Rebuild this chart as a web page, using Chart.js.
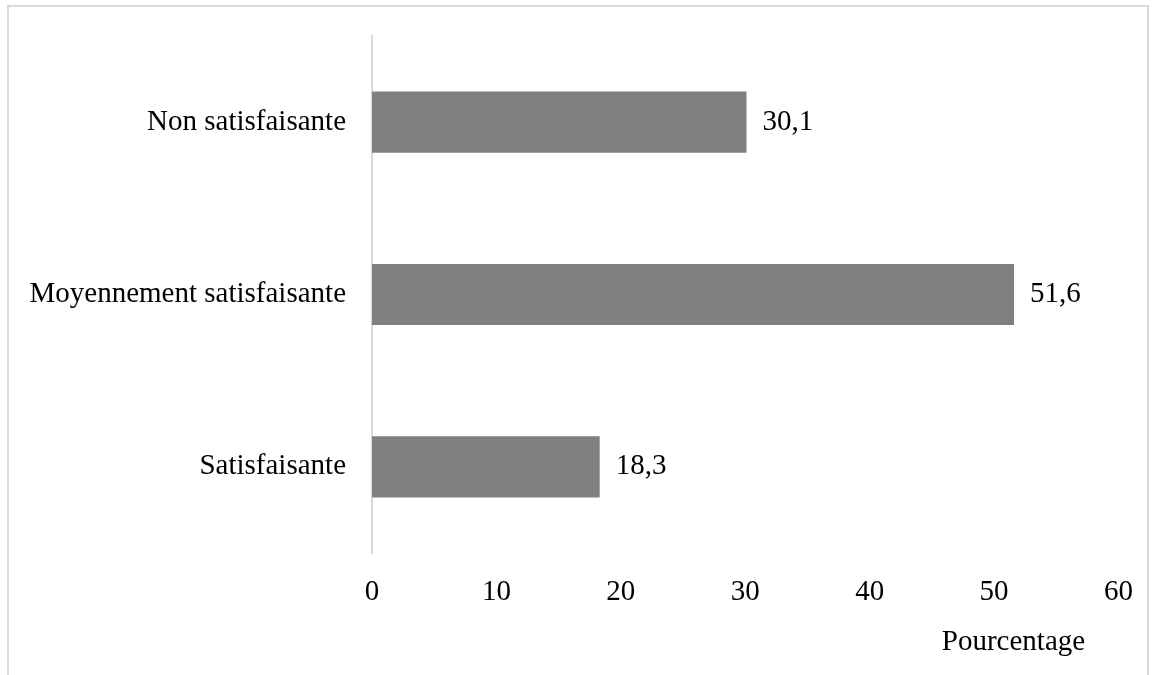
<!DOCTYPE html>
<html>
<head>
<meta charset="utf-8">
<script src="https://cdn.jsdelivr.net/npm/chart.js@4.4.1/dist/chart.umd.min.js"></script>
<style>
  html, body { margin: 0; padding: 0; background: #fff; }
  #wrap { position: relative; width: 1155px; height: 675px; overflow: hidden; }
  #frame { position: absolute; left: 7px; top: 5px; width: 1142px; height: 700px;
           border: 2px solid #d9d9d9; box-sizing: border-box; }
  canvas { position: absolute; left: 0; top: 0; }
</style>
</head>
<body>
<div id="wrap">
  <div id="frame"></div>
  <canvas id="chart" width="1155" height="675"></canvas>
</div>
<script>
// categories, top to bottom
const categories = ['Non satisfaisante', 'Moyennement satisfaisante', 'Satisfaisante'];
const values = [30.1, 51.6, 18.3];
const xTicks = [0, 10, 20, 30, 40, 50, 60];
const axisTitle = 'Pourcentage';

const FONT = '"Liberation Serif", "Times New Roman", serif';
const FONT_SIZE = 29;

// value labels at the end of each bar
const valueLabels = {
  id: 'valueLabels',
  afterDatasetsDraw(chart) {
    const ctx = chart.ctx;
    const meta = chart.getDatasetMeta(0);
    ctx.save();
    ctx.font = FONT_SIZE + 'px ' + FONT;
    ctx.fillStyle = '#000';
    ctx.textAlign = 'left';
    ctx.textBaseline = 'middle';
    meta.data.forEach((bar, i) => {
      ctx.fillText(String(values[i]).replace('.', ','), bar.x + 16, bar.y);
    });
    ctx.restore();
  }
};

// axis title, sits under the right part of the x axis
const xTitle = {
  id: 'xTitle',
  afterDraw(chart) {
    const ctx = chart.ctx;
    const area = chart.chartArea;
    ctx.save();
    ctx.font = FONT_SIZE + 'px ' + FONT;
    ctx.fillStyle = '#000';
    ctx.textAlign = 'center';
    ctx.textBaseline = 'middle';
    ctx.fillText(axisTitle, area.right - 105, area.bottom + 89);
    ctx.restore();
  }
};

new Chart(document.getElementById('chart'), {
  type: 'bar',
  data: {
    labels: categories,
    datasets: [{
      data: values,
      backgroundColor: '#808080',
      borderWidth: 0,
      categoryPercentage: 1,
      barPercentage: 0.355,
    }],
  },
  options: {
    indexAxis: 'y',
    responsive: false,
    animation: false,
    devicePixelRatio: 1,
    layout: { padding: { top: 36, right: 34, left: 0, bottom: 0 } },
    plugins: {
      legend: { display: false },
      tooltip: { enabled: false },
    },
    scales: {
      x: {
        min: 0,
        max: 60,
        afterBuildTicks(scale) {
          scale.ticks = xTicks.map(v => ({ value: v }));
        },
        afterFit(scale) { scale.height = 122; },
        grid: { display: false, drawTicks: false },
        border: { display: false },
        ticks: {
          padding: 22,
          color: '#000',
          font: { family: FONT, size: FONT_SIZE },
          maxRotation: 0,
        },
      },
      y: {
        afterFit(scale) {
          scale.width = 372;
          scale.paddingTop = 0;
          scale.paddingBottom = 0;
        },
        grid: { display: false, drawTicks: false },
        border: { display: true, color: '#d9d9d9', width: 2 },
        ticks: {
          padding: 26,
          color: '#000',
          font: { family: FONT, size: FONT_SIZE },
        },
      },
    },
  },
  plugins: [valueLabels, xTitle],
});
</script>
</body>
</html>
